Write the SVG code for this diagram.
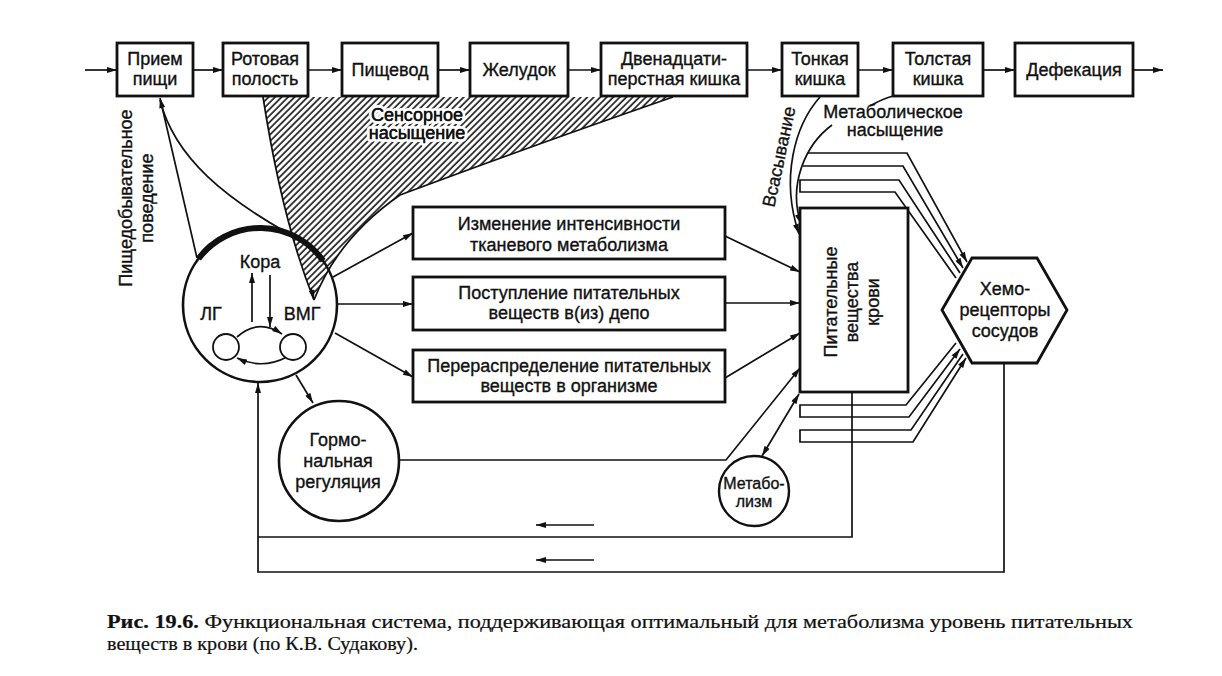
<svg xmlns="http://www.w3.org/2000/svg" width="1222" height="676" viewBox="0 0 1222 676">
<defs>
<marker id="ah" viewBox="0 0 10 6" refX="10" refY="3" markerWidth="11" markerHeight="6" orient="auto-start-reverse" markerUnits="userSpaceOnUse"><path d="M0,0 L10,3 L0,6 z" fill="#111"/></marker>
<pattern id="hatch" width="4.6" height="4.6" patternUnits="userSpaceOnUse" patternTransform="rotate(45)"><rect width="4.6" height="4.6" fill="#fff"/><line x1="1" y1="0" x2="1" y2="4.6" stroke="#222" stroke-width="1.7"/></pattern>
<style>
text{font-family:"Liberation Sans",Arial,sans-serif;font-size:18px;fill:#111;text-anchor:middle;stroke:#111;stroke-width:0.35px}
.box{fill:#fff;stroke:#111;stroke-width:2.8}
.ln{fill:none;stroke:#111;stroke-width:1.7}
.ar{fill:none;stroke:#111;stroke-width:1.7;marker-end:url(#ah)}
.cap{font-family:"Liberation Serif","Times New Roman",serif;font-size:18px;text-anchor:start;stroke-width:0.2px}
.halo{paint-order:stroke;stroke:#fff;stroke-width:6px;stroke-linejoin:round}
</style>
</defs>
<rect width="1222" height="676" fill="#fff"/>

<g id="sensory-saturation">
<path d="M263,97 L673,97 Q520,150 400,195 Q338,238 314,300 Q282,220 263,97 Z" fill="url(#hatch)"/>
<path d="M673,97 Q520,150 400,195 Q338,238 314,300" class="ln"/>
<path d="M263,97 Q282,220 314,300" class="ln"/>
<path d="M311,288 L314,300" class="ar"/>
<text x="417" y="121" class="halo">Сенсорное</text>
<text x="417" y="121">Сенсорное</text>
<text x="417" y="139" class="halo">насыщение</text>
<text x="417" y="139">насыщение</text>
</g>

<g id="connectors">
<path d="M85,70 H117" class="ar"/>
<path d="M193,70 H223" class="ar"/>
<path d="M308,70 H342" class="ar"/>
<path d="M438,70 H470" class="ar"/>
<path d="M568,70 H601" class="ar"/>
<path d="M747,70 H782" class="ar"/>
<path d="M858,70 H893" class="ar"/>
<path d="M983,70 H1015" class="ar"/>
<path d="M1133,70 H1163" class="ar"/>
<path d="M197,258 L160,98" class="ar"/>
<path d="M284,231 C230,200 175,160 160,100" class="ln"/>
<path d="M333,277 L413,233" class="ar"/>
<path d="M338,304 L413,304" class="ar"/>
<path d="M335,333 L413,377" class="ar"/>
<path d="M725,236 L800,272" class="ar"/>
<path d="M725,303 L800,303" class="ar"/>
<path d="M725,378 L800,333" class="ar"/>
<path d="M296,375 L313,403" class="ar"/>
<path d="M399,460 H726 L800,368" class="ar"/>
<path d="M762,456 L799,394" class="ar" marker-start="url(#ah)"/>
<path d="M820,97 C795,125 780,178 799,234" class="ar"/>
<path d="M832,125 C805,145 788,185 801,224" class="ar"/>
<path d="M893,96 Q882,99 870,106" class="ln"/>
<path d="M808,153 H907 L967,262" class="ar"/>
<path d="M803,166 H903 L963,268" class="ar"/>
<path d="M960,273 L899,180 H800 V192 H895 L956,278" class="ln"/>
<path d="M956,343 L906,405 H800 V417 H909 L960,349" class="ar"/>
<path d="M963,354 L911,430 H800 V442 H913 L966,358" class="ar"/>
<path d="M852,392 V537 H258" class="ln"/>
<path d="M1004,363 V572 H258 V383" class="ar"/>
<path d="M594,525 H536" class="ar"/>
<path d="M594,560 H536" class="ar"/>
<path d="M252,322 V273" class="ar"/>
<path d="M270,275 V327" class="ar"/>
<path d="M237,337 Q258,318 282,334" class="ar"/>
<path d="M287,357 Q262,370 237,358" class="ar"/>
</g>

<g id="n-priem"><rect x="117" y="43" width="76" height="53" class="box"/><text x="155" y="65">Прием</text><text x="155" y="85">пищи</text></g>
<g id="n-rot"><rect x="223" y="43" width="85" height="53" class="box"/><text x="265" y="65">Ротовая</text><text x="265" y="85">полость</text></g>
<g id="n-pishchevod"><rect x="342" y="43" width="96" height="53" class="box"/><text x="390" y="76">Пищевод</text></g>
<g id="n-zheludok"><rect x="470" y="43" width="98" height="53" class="box"/><text x="519" y="76">Желудок</text></g>
<g id="n-dpk"><rect x="601" y="43" width="146" height="53" class="box"/><text x="674" y="65">Двенадцати-</text><text x="674" y="85">перстная кишка</text></g>
<g id="n-tonkaya"><rect x="782" y="43" width="76" height="53" class="box"/><text x="820" y="65">Тонкая</text><text x="820" y="85">кишка</text></g>
<g id="n-tolstaya"><rect x="893" y="43" width="90" height="53" class="box"/><text x="938" y="65">Толстая</text><text x="938" y="85">кишка</text></g>
<g id="n-defekaciya"><rect x="1015" y="43" width="118" height="53" class="box"/><text x="1074" y="76">Дефекация</text></g>

<g id="n-brain">
<circle cx="260" cy="305" r="77" fill="none" stroke="#111" stroke-width="2.6"/>
<path d="M198.5,258.7 A77,77 0 0 1 323.1,260.8" fill="none" stroke="#111" stroke-width="6"/>
<circle cx="226" cy="347" r="13" fill="#fff" stroke="#111" stroke-width="1.8"/>
<circle cx="293" cy="347" r="13" fill="#fff" stroke="#111" stroke-width="1.8"/>
<text x="260" y="268">Кора</text>
<text x="211" y="320">ЛГ</text>
<text x="302" y="320">ВМГ</text>
</g>

<g id="n-behaviour">
<text transform="translate(132,198) rotate(-90)">Пищедобывательное</text>
<text transform="translate(153,198) rotate(-90)">поведение</text>
</g>

<g id="n-izmenenie"><rect x="413" y="207" width="312" height="52" class="box"/><text x="569" y="230">Изменение интенсивности</text><text x="569" y="251">тканевого метаболизма</text></g>
<g id="n-postuplenie"><rect x="413" y="277" width="312" height="53" class="box"/><text x="569" y="299">Поступление питательных</text><text x="569" y="319">веществ в(из) депо</text></g>
<g id="n-pereraspr"><rect x="413" y="350" width="312" height="52" class="box"/><text x="569" y="372">Перераспределение питательных</text><text x="569" y="392">веществ в организме</text></g>

<g id="n-blood">
<rect x="800" y="208" width="108" height="184" class="box"/>
<text transform="translate(852,302) rotate(-90)"><tspan x="0" y="-15">Питательные</tspan><tspan x="0" y="6">вещества</tspan><tspan x="0" y="27">крови</tspan></text>
</g>

<g id="n-chemo">
<polygon points="942,310 972,258 1037,258 1067,310 1037,363 972,363" fill="#fff" stroke="#111" stroke-width="2.8"/>
<text x="1005" y="295">Хемо-</text>
<text x="1005" y="316">рецепторы</text>
<text x="1005" y="337">сосудов</text>
</g>

<g id="n-hormonal">
<circle cx="339" cy="461" r="60" fill="#fff" stroke="#111" stroke-width="2.6"/>
<text x="338" y="446">Гормо-</text>
<text x="338" y="467">нальная</text>
<text x="338" y="488">регуляция</text>
</g>

<g id="n-metabolism">
<circle cx="754" cy="491" r="35" fill="#fff" stroke="#111" stroke-width="2.4"/>
<text x="754" y="489" style="font-size:16px">Метабо-</text>
<text x="754" y="507" style="font-size:16px">лизм</text>
</g>

<g id="labels">
<text transform="translate(785,158) rotate(-78)">Всасывание</text>
<text x="893" y="118">Метаболическое</text>
<text x="895" y="136">насыщение</text>
</g>

<g id="caption">
<text x="107" y="628" class="cap" textLength="1026" lengthAdjust="spacingAndGlyphs"><tspan font-weight="bold">Рис. 19.6.</tspan> Функциональная система, поддерживающая оптимальный для метаболизма уровень питательных</text>
<text x="107" y="650" class="cap" textLength="311" lengthAdjust="spacingAndGlyphs">веществ в крови (по К.В. Судакову).</text>
</g>
</svg>
